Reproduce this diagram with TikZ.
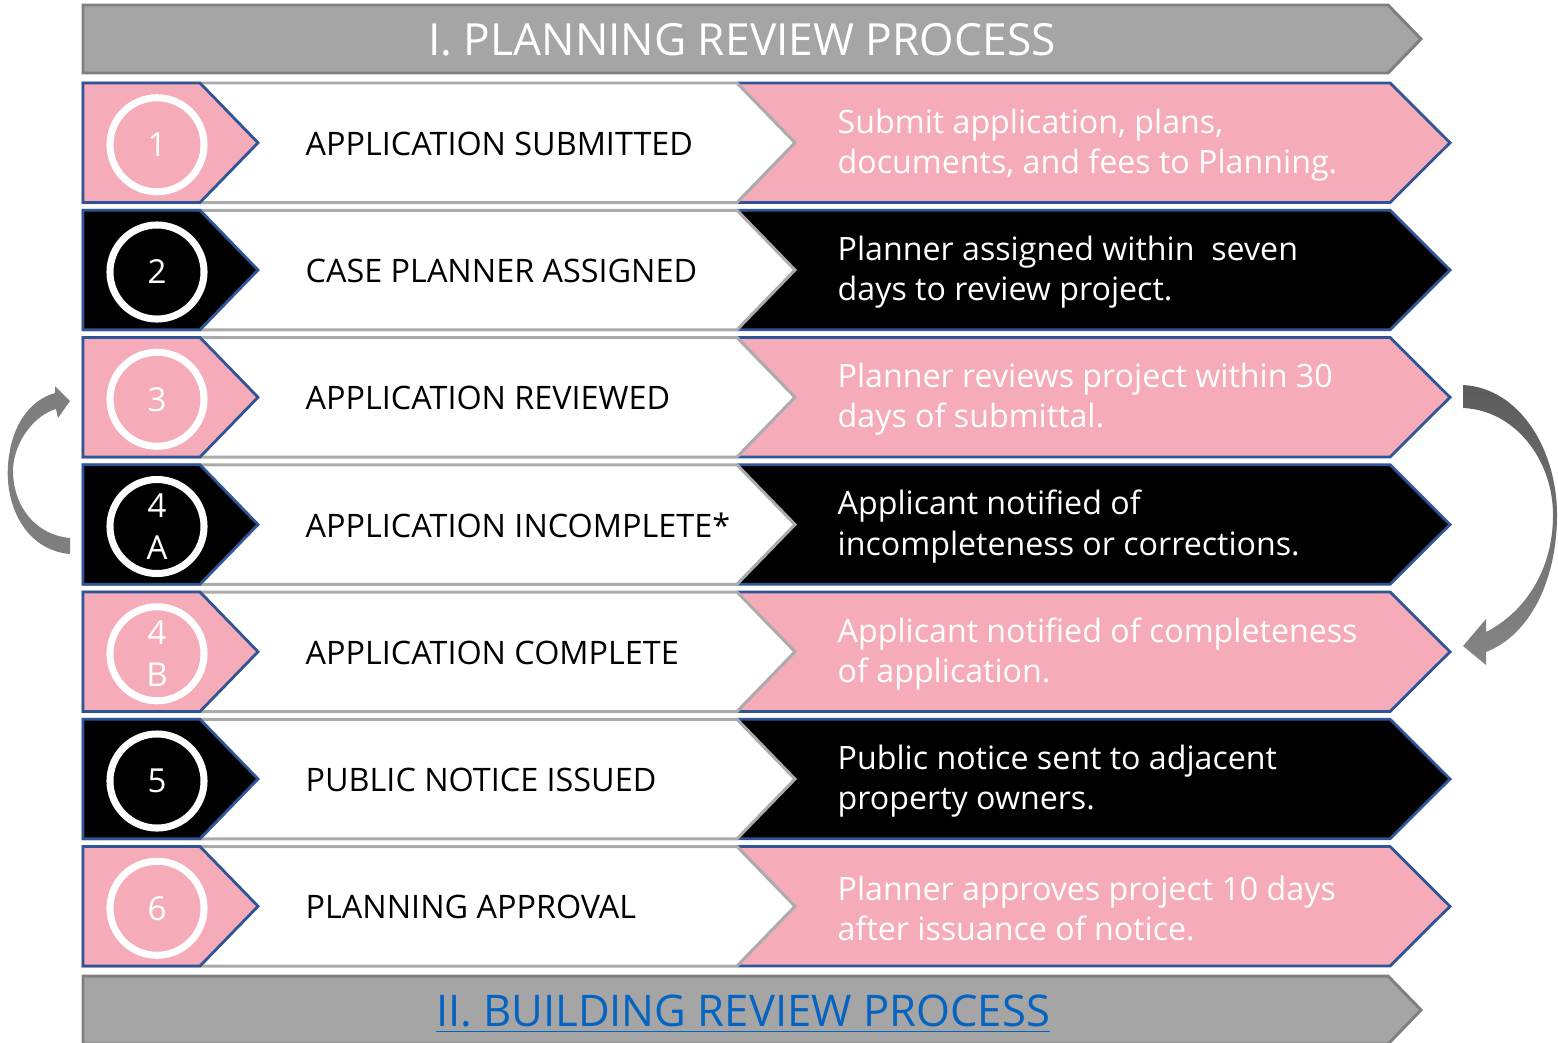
\documentclass[tikz,border=0pt]{standalone}
\usepackage{fontspec}
\setmainfont{Open Sans}
\usetikzlibrary{positioning}

\definecolor{rowpink}{HTML}{F5ACB8}
\definecolor{rowblue}{HTML}{2F5597}
\definecolor{bargray}{HTML}{A5A5A5}
\definecolor{baredge}{HTML}{7F7F7F}
\definecolor{midedge}{HTML}{ABABAB}
\definecolor{linkblue}{HTML}{0563C1}
\definecolor{loopdark}{HTML}{5C5C5C}
\definecolor{looplight}{HTML}{858585}

\tikzset{
  banner/.style={fill=bargray, draw=baredge, line width=0.85pt},
  bannertext/.style={text=white, font=\fontsize{12.6}{15}\selectfont, inner sep=0pt},
  rowedge/.style={draw=rowblue, line width=0.8pt},
  midbar/.style={fill=white, draw=midedge, line width=0.85pt},
  numring/.style={circle, draw=white, line width=2pt, minimum size=0.94cm, inner sep=0pt,
    text=white, align=center, font=\fontsize{9.4}{12}\selectfont},
  steptext/.style={anchor=west, inner sep=0pt, font=\fontsize{9.2}{11}\selectfont},
  desctext/.style={anchor=west, inner sep=0pt, text=white, align=left,
    font=\fontsize{9.15}{11.4}\selectfont},
}

\begin{document}
\begin{tikzpicture}[x=0.01cm, y=-0.01cm]
\path[use as bounding box] (0,0) rectangle (1558,1042);
\clip (0,0) rectangle (1558,1042);

% top banner
\filldraw[banner] (83,5) -- (1388,5) -- (1421,39) -- (1388,73) -- (83,73) -- cycle;
\node[bannertext] (title) at (742,40) {I. PLANNING REVIEW PROCESS};

% process rows
\foreach \r/\col/\num/\step/\desc in {
  1/rowpink/1/APPLICATION SUBMITTED/{Submit application, plans,\\documents, and fees to Planning.},
  2/black/2/CASE PLANNER ASSIGNED/{Planner assigned within\ \ seven\\days to review project.},
  3/rowpink/3/APPLICATION REVIEWED/{Planner reviews project within 30\\days of submittal.},
  4/black/{4\\A}/APPLICATION INCOMPLETE*/{Applicant notified of\\incompleteness or corrections.},
  5/rowpink/{4\\B}/APPLICATION COMPLETE/{Applicant notified of completeness\\of application.},
  6/black/5/PUBLIC NOTICE ISSUED/{Public notice sent to adjacent\\property owners.},
  7/rowpink/6/PLANNING APPROVAL/{Planner approves project 10 days\\after issuance of notice.}}
{
  \pgfmathsetmacro\t{83+127.25*(\r-1)}
  \pgfmathsetmacro\b{\t+119.5}
  \pgfmathsetmacro\m{\t+59.75}
  % right arrow box
  \fill[\col] (737,\t) -- (1390,\t) -- (1450,\m) -- (1390,\b) -- (737,\b) -- cycle;
  \draw[rowedge] (737,\t) -- (1390,\t) -- (1450,\m) -- (1390,\b) -- (737,\b);
  % white middle chevron
  \filldraw[midbar] (83,\t) -- (737,\t) -- (795,\m) -- (737,\b) -- (83,\b) -- cycle;
  % left number chevron
  \filldraw[fill=\col, rowedge] (83,\t) -- (200,\t) -- (258,\m) -- (200,\b) -- (83,\b) -- cycle;
  \node[numring] (num\r) at (157,\m+2) {\num};
  \node[steptext] (step\r) at (305,\m+1) {\step};
  \node[desctext] (desc\r) at (837,\m+2) {\desc};
}

% bottom banner
\filldraw[banner] (83,976) -- (1388,976) -- (1421,1010) -- (1388,1044) -- (83,1044) -- cycle;
\node[bannertext, text=linkblue, font=\fontsize{12.4}{15}\selectfont] (next) at (743,1014) {\underline{II. BUILDING REVIEW PROCESS}};

% loop back from 4A to 3
\fill[looplight!95!black] (70,554) .. controls (25,550) and (5,505) .. (8,465)
  .. controls (11,425) and (30,400) .. (55,393) -- (55,386) -- (70,401) -- (58,418) -- (56,409)
  .. controls (35,415) and (15,440) .. (13,468) .. controls (12,505) and (35,535) .. (70,538) -- cycle;

% skip from 3 to 4B
\shade[top color=loopdark, bottom color=looplight] (1463,385) .. controls (1520,388) and (1557,450) .. (1557,515)
  .. controls (1557,580) and (1530,635) .. (1486,652) -- (1486,665) -- (1463,646) -- (1486,619) -- (1486,632)
  .. controls (1525,612) and (1553,570) .. (1553,515) .. controls (1553,460) and (1515,410) .. (1463,408) -- cycle;
\end{tikzpicture}
\end{document}
